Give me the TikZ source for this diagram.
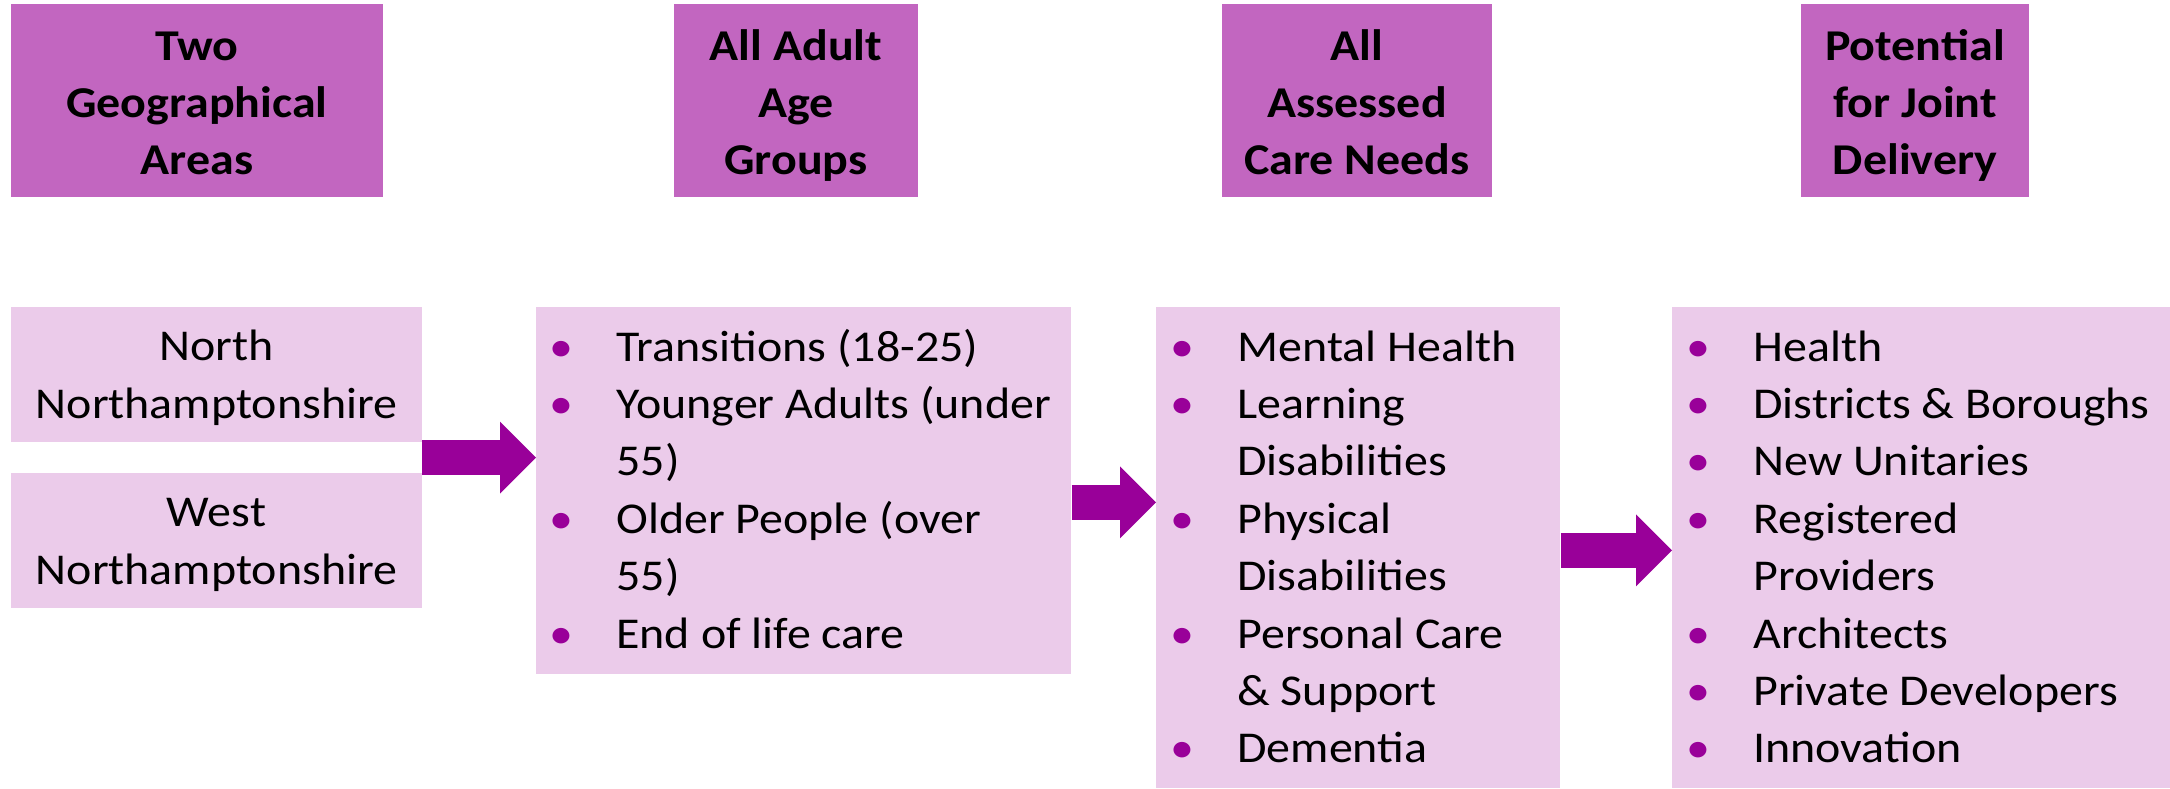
\documentclass[tikz,border=0pt]{standalone}
\usepackage{fontspec}
\setmainfont{Carlito}[FakeStretch=1.09]
\usetikzlibrary{arrows.meta,calc}

\definecolor{headfill}{RGB}{194,102,192}
\definecolor{boxfill}{RGB}{235,203,234}
\definecolor{plum}{RGB}{153,0,153}

\newcommand{\bul}{\makebox[33.25pt][l]{\textcolor{plum}{\textbullet}}}
\newcommand{\cont}{\hspace*{33.25pt}}
\newcommand{\itemlines}[1]{\parbox[t]{260pt}{\raggedright #1}}
\newcommand{\toprule}[1]{\rule{0pt}{#1}}

\tikzset{
	head/.style={fill=headfill, inner sep=0pt, align=center, minimum height=96.5pt, font=\fontsize{22}{28.7}\selectfont\bfseries},
	area/.style={fill=boxfill, inner sep=0pt, align=center, minimum width=205.5pt, minimum height=67.5pt, font=\fontsize{22}{28.7}\selectfont},
	panel/.style={fill=boxfill, inner sep=0pt, anchor=north west},
	items/.style={anchor=base west, inner sep=0pt, font=\fontsize{22}{28.7}\selectfont},
	flow/.style={draw=plum, line width=17.5pt, -{Triangle[length=18pt, width=36pt, line width=0pt]}}
}

\begin{document}
\begin{tikzpicture}[x=0.5pt, y=-0.5pt]
	\useasboundingbox (0, 0) rectangle (2170, 788);
	\node[head, minimum width=186pt] (areasHead) at (197, 100.5) {\toprule{25.6pt}Two\\Geographical\\Areas\strut};
	\node[head, minimum width=122pt] (agesHead) at (796, 100.5) {\toprule{25.6pt}All Adult\\Age\\Groups\strut};
	\node[head, minimum width=135pt] (needsHead) at (1357, 100.5) {\toprule{25.6pt}All\\Assessed\\Care Needs\strut};
	\node[head, minimum width=114pt] (deliveryHead) at (1915, 100.5) {\toprule{25.6pt}Potential\\for Joint\\Delivery\strut};

	\node[area] (north) at (216.5, 374.5) {\toprule{23.6pt}North\\Northamptonshire\strut};
	\node[area] (west) at (216.5, 540.5) {\toprule{23.6pt}West\\Northamptonshire\strut};

	\node[panel, minimum width=267.5pt, minimum height=183.5pt] (ages) at (536, 307) {};
	\node[panel, minimum width=202pt, minimum height=240.5pt] (needs) at (1156, 307) {};
	\node[panel, minimum width=249pt, minimum height=240.5pt] (partners) at (1672, 307) {};

	\node[items] (agesList) at ([xshift=6.75pt, yshift=-27pt]ages.north west) {\itemlines{\bul Transitions (18-25)\\\bul Younger Adults (under\\\cont 55)\\\bul Older People (over\\\cont 55)\\\bul End of life care}};
	\node[items] (needsList) at ([xshift=7.25pt, yshift=-27pt]needs.north west) {\itemlines{\bul Mental Health\\\bul Learning\\\cont Disabilities\\\bul Physical\\\cont Disabilities\\\bul Personal Care\\\cont \& Support\\\bul Dementia}};
	\node[items] (partnersList) at ([xshift=7.25pt, yshift=-27pt]partners.north west) {\itemlines{\bul Health\\\bul Districts \& Boroughs\\\bul New Unitaries\\\bul Registered\\\cont Providers\\\bul Architects\\\bul Private Developers\\\bul Innovation}};

	\coordinate (gap) at ($(north.south east)!0.5!(west.north east)$);
	\draw[flow] (gap) -- (gap -| ages.west);
	\draw[flow] ([yshift=-5.75pt]ages.east) -- ([yshift=-5.75pt]ages.east -| needs.west);
	\draw[flow] ([yshift=-1.25pt]needs.east) -- ([yshift=-1.25pt]needs.east -| partners.west);
\end{tikzpicture}
\end{document}
